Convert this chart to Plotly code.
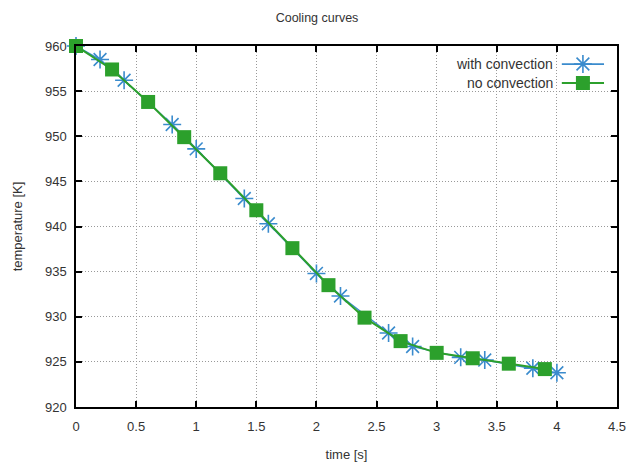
import plotly.graph_objects as go

# with convection (blue asterisks)
t_conv = [0.0, 0.2, 0.4, 0.8, 1.0, 1.4, 1.6, 2.0, 2.2, 2.6, 2.8, 3.2, 3.4, 3.8, 4.0]
T_conv = [960.0, 958.5, 956.2, 951.3, 948.6, 943.1, 940.3, 934.8, 932.3, 928.2, 926.7, 925.5, 925.2, 924.3, 923.8]

# no convection (green squares)
t_noconv = [0.0, 0.3, 0.6, 0.9, 1.2, 1.5, 1.8, 2.1, 2.4, 2.7, 3.0, 3.3, 3.6, 3.9]
T_noconv = [960.0, 957.4, 953.8, 949.9, 945.9, 941.8, 937.6, 933.5, 929.9, 927.3, 926.0, 925.4, 924.8, 924.2]

x_ticks = [0, 0.5, 1, 1.5, 2, 2.5, 3, 3.5, 4, 4.5]
x_tick_labels = ["0", "0.5", "1", "1.5", "2", "2.5", "3", "3.5", "4", "4.5"]
y_ticks = [920, 925, 930, 935, 940, 945, 950, 955, 960]

series_names = ["with convection", "no convection"]

BLUE = "#3a8bcd"
GREEN = "#2ca02c"
FONT = "Liberation Sans"
TXT = "#333333"

fig = go.Figure()

fig.add_trace(go.Scatter(
    x=t_conv, y=T_conv, mode="lines+markers", name=series_names[0],
    line=dict(color=BLUE, width=1.5),
    marker=dict(symbol="asterisk-open", size=15, color=BLUE, line=dict(color=BLUE, width=1.6)),
    showlegend=False, cliponaxis=False,
))
fig.add_trace(go.Scatter(
    x=t_noconv, y=T_noconv, mode="lines+markers", name=series_names[1],
    line=dict(color=GREEN, width=2),
    marker=dict(symbol="square", size=14, color=GREEN),
    showlegend=False, cliponaxis=False,
))

# custom gnuplot-style key (text left of sample) on an overlay paper-like axis
key_y = [0.950, 0.8975]
key_colors = [BLUE, GREEN]
for i, (name, ky, col) in enumerate(zip(series_names, key_y, key_colors)):
    fig.add_trace(go.Scatter(
        x=[0.898, 0.976], y=[ky, ky], mode="lines", xaxis="x2", yaxis="y2",
        line=dict(color=col, width=1.8), showlegend=False, hoverinfo="skip",
    ))
    if i == 0:
        mk = dict(symbol="asterisk-open", size=15, color=col, line=dict(color=col, width=1.6))
    else:
        mk = dict(symbol="square", size=14, color=col)
    fig.add_trace(go.Scatter(
        x=[0.937], y=[ky], mode="markers", xaxis="x2", yaxis="y2",
        marker=mk, showlegend=False, hoverinfo="skip",
    ))
    fig.add_annotation(
        x=0.885, y=ky, xref="paper", yref="paper", text=name, showarrow=False,
        xanchor="right", yanchor="middle", font=dict(family=FONT, size=14, color=TXT),
    )

# white key background hiding the grid
fig.add_shape(type="rect", xref="paper", yref="paper", x0=0.662, x1=0.996, y0=0.8726, y1=0.996,
              fillcolor="white", line=dict(width=0), layer="between")

axis_common = dict(
    showline=True, linecolor="black", linewidth=1.5, mirror="ticks",
    ticks="inside", ticklen=6, tickwidth=1.5, tickcolor="black",
    showgrid=True, gridcolor="#999999", griddash="1px,2px", gridwidth=1,
    zeroline=False, automargin=False, tickfont=dict(family=FONT, size=13, color=TXT),
)

fig.update_layout(
    width=634, height=462,
    margin=dict(l=76, r=17, t=46, b=55),
    paper_bgcolor="white", plot_bgcolor="white",
    title=dict(text="Cooling curves", x=0.5, xanchor="center", y=0.962, yanchor="middle",
               font=dict(family=FONT, size=12.5, color=TXT)),
    xaxis=dict(range=[0, 4.5], tickvals=x_ticks, ticktext=x_tick_labels,
               ticklabelstandoff=7,
               title=dict(text="time [s]", font=dict(family=FONT, size=13, color=TXT), standoff=17),
               **axis_common),
    yaxis=dict(range=[920, 960], tickvals=y_ticks, ticklabelstandoff=5,
               title=dict(text="temperature [K]", font=dict(family=FONT, size=13, color=TXT), standoff=19),
               **axis_common),
    xaxis2=dict(range=[0, 1], domain=[0, 1], overlaying="x", visible=False, fixedrange=True),
    yaxis2=dict(range=[0, 1], domain=[0, 1], overlaying="y", visible=False, fixedrange=True),
    showlegend=False,
)

fig.write_html(
    "out.html",
    config={"displayModeBar": False},
    post_script="document.body.style.margin='0';document.body.style.overflow='hidden';",
)
